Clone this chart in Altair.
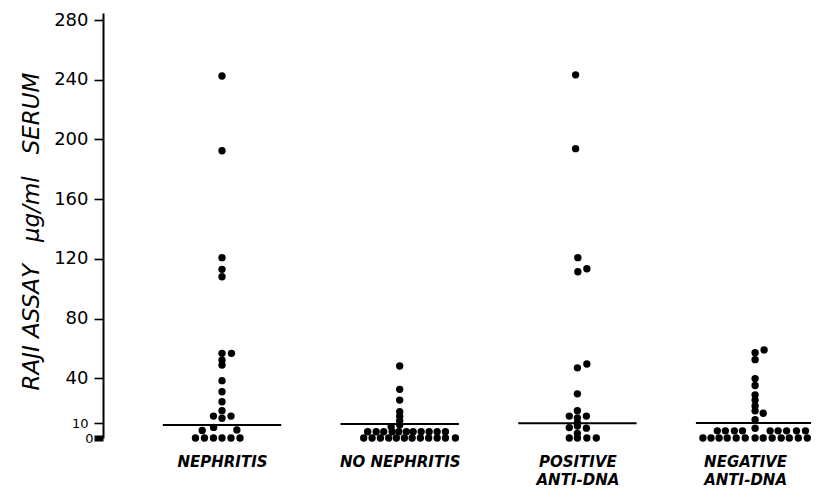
import json
import altair as alt
import pandas as pd

# ---- data ----
group_labels = [["NEPHRITIS"], ["NO NEPHRITIS"], ["POSITIVE", "ANTI-DNA"], ["NEGATIVE", "ANTI-DNA"]]

neph_values = [242.5, 192.4, 120.8, 113.0, 108.0, 56.7, 56.7, 52.2, 48.9, 38.4, 31.0, 24.3, 18.3,
               14.7, 13.2, 14.7, 7.1, 5.0, 5.4, 0, 0, 0, 0, 0, 0]
neph_slots = [0, 0, 0, 0, 0, 0, 1.05, 0, 0, 0, 0, 0, 0,
              -0.95, 0, 1.0, -0.93, -2.2, 1.65, -2.95, -1.95, -0.95, 0, 1.0, 2.0]

nonneph_values = [48.2, 32.6, 25.4, 17.6, 14.5, 11.5, 8.7, 7.6,
                  4.2, 4.2, 4.2, 4.2, 4.2, 4.2, 4.2, 4.2, 4.2, 4.2, 4.2,
                  0, 0, 0, 0, 0, 0, 0, 0, 0, 0, 0, 0]
nonneph_slots = [0, 0, 0, 0, 0, 0, 0, -0.95,
                 -3.56, -2.62, -1.78, -0.84, -0.1, 0.74, 1.49, 2.38, 3.27, 4.16, 5.08,
                 -4.0, -3.07, -2.14, -1.22, -0.37, 0.52, 1.38, 2.3, 3.22, 4.16, 5.08, 6.19]

pos_values = [243.3, 193.8, 120.8, 111.4, 113.4, 49.6, 47.0, 29.6, 18.3, 14.7, 13.5, 14.7,
              10.3, 7.0, 8.0, 6.6, 3.1, 0, 0, 0, 0]
pos_slots = [-0.2, -0.2, 0.05, 0.05, 1.05, 1.05, 0, 0, 0, -0.9, 0, 1.0,
             0, -0.9, 0, 1.0, 0, -0.9, 0, 1.05, 2.1]

neg_values = [59.0, 57.1, 52.5, 39.8, 35.2, 28.8, 25.4, 21.5, 18.2, 16.6, 12.3, 6.5,
              4.8, 4.8, 4.8, 4.8, 4.8, 4.8, 4.8, 4.8, 4.8,
              0, 0, 0, 0, 0, 0, 0, 0, 0, 0, 0, 0, 0, 0]
neg_slots = [1.0, 0, 0, 0, 0, 0, 0, 0, 0, 0.9, 0, 0,
             -4.2, -3.3, -2.3, -1.4, 1.67, 2.56, 3.5, 4.6, 5.6,
             -5.8, -4.9, -4.0, -3.1, -2.1, -1.1, 0, 0.9, 1.9, 2.9, 3.8, 4.8, 5.8, 6.9]

medians = [8.7, 9.4, 9.8, 10.0]
y_ticks = [0, 10, 40, 80, 120, 160, 200, 240, 280]
y_title = "RAJI ASSAY\u00a0\u00a0\u00a0\u03bcg/ml\u00a0\u00a0\u00a0SERUM"

# ---- build tables ----
rows = []
for gi, (vals, slots) in enumerate([(neph_values, neph_slots), (nonneph_values, nonneph_slots),
                                    (pos_values, pos_slots), (neg_values, neg_slots)]):
    for v, s in zip(vals, slots):
        rows.append({"group": gi, "value": v, "slot": s})
points = pd.DataFrame(rows)
median_df = pd.DataFrame({"group": list(range(len(medians))), "median": medians})

SLOT = 9 / 177.7      # one dot slot, in category units
HALF = 0.333          # half length of median bar, in category units

x_scale = alt.Scale(domain=[-0.6697, 3.3146], nice=False, zero=False)
y_scale = alt.Scale(domain=[0, 284.7], nice=False, zero=False)

label_expr = json.dumps(group_labels) + "[datum.value]"

x_axis = alt.Axis(values=[0, 1, 2, 3], labelExpr=label_expr, ticks=False, domain=False,
                  grid=False, title=None, labelFont="DejaVu Sans", labelFontSize=15,
                  labelFontWeight="bold", labelFontStyle="italic", labelColor="black",
                  labelPadding=16, labelLineHeight=18, labelFlush=False, labelOverlap=False,
                  labelBound=False,
                  labelOffset={"condition": {"test": "datum.value === 3", "value": -10}, "value": 0})

y_axis = alt.Axis(values=y_ticks, title=y_title, grid=False,
                  domainColor="black", domainWidth=2,
                  tickColor="black", tickSize=9,
                  tickWidth={"condition": {"test": "datum.value === 0", "value": 6}, "value": 1.6},
                  labelPadding={"condition": {"test": "datum.value === 0", "value": 1}, "value": 6},
                  labelFontSize={"condition": {"test": "datum.value <= 10", "value": 13}, "value": 18},
                  labelFont="DejaVu Sans", labelColor="black", labelOverlap=False, labelFlush=False,
                  titleFont="DejaVu Sans", titleFontStyle="italic", titleFontWeight="normal",
                  titleFontSize=23, titleColor="black", titleAngle=270, titleAlign="center",
                  titleBaseline="middle", titleX=-72, titleY=218)

rules = alt.Chart(median_df).transform_calculate(
    x1=f"datum.group - {HALF}", x2=f"datum.group + {HALF}"
).mark_rule(color="black", strokeWidth=2).encode(
    x=alt.X("x1:Q", scale=x_scale, axis=x_axis),
    x2="x2:Q",
    y=alt.Y("median:Q", scale=y_scale, axis=y_axis),
)

dots = alt.Chart(points).transform_calculate(
    xpos=f"datum.group + datum.slot * {SLOT}"
).mark_circle(size=54, color="black", opacity=1).encode(
    x=alt.X("xpos:Q", scale=x_scale, axis=x_axis),
    y=alt.Y("value:Q", scale=y_scale, axis=y_axis),
)

chart = alt.layer(rules, dots).properties(
    width=708, height=425,
    autosize=alt.AutoSizeParams(type="none"),
    padding={"left": 95, "top": 5, "right": 0, "bottom": 52},
    background="white",
).configure_view(strokeWidth=0)

chart.save("out.html", embed_options={"renderer": "svg", "actions": False})
